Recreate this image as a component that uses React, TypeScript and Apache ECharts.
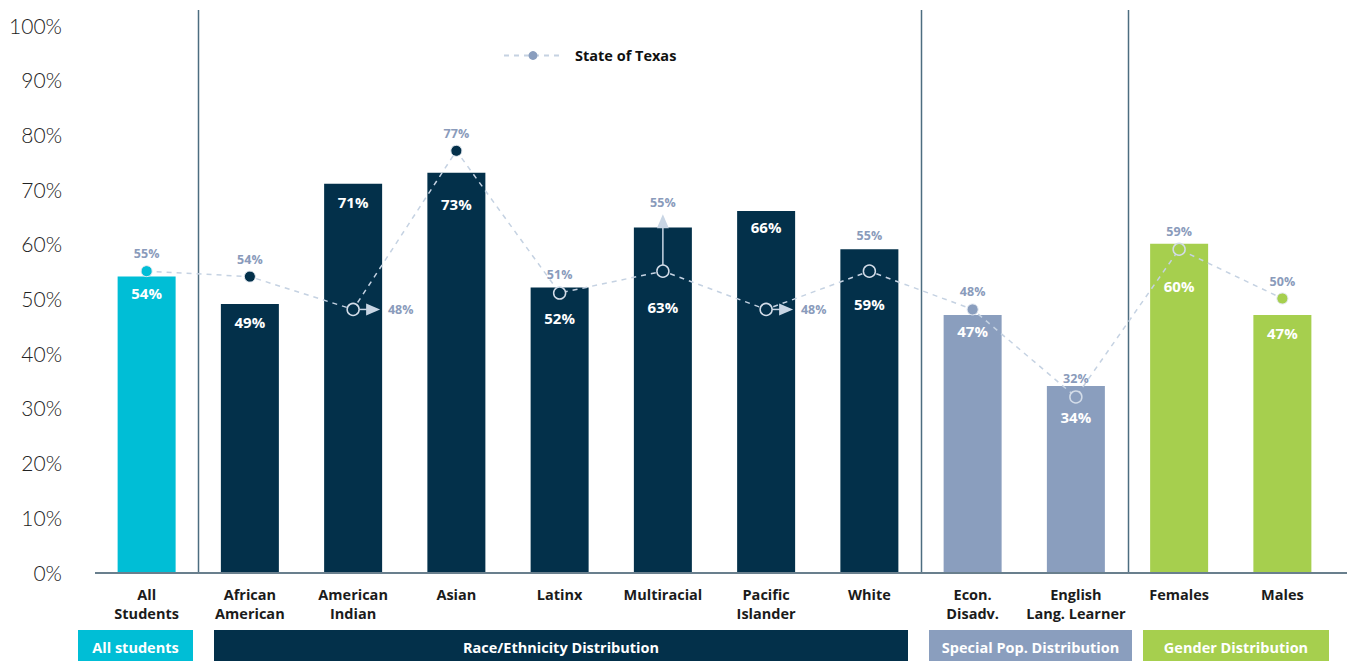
import React, { useEffect, useRef } from "react";
import * as echarts from "echarts";

// ---------- data ----------
const categories = [
  "All\nStudents",
  "African\nAmerican",
  "American\nIndian",
  "Asian",
  "Latinx",
  "Multiracial",
  "Pacific\nIslander",
  "White",
  "Econ.\nDisadv.",
  "English\nLang. Learner",
  "Females",
  "Males",
];
const categoryGroup = ["all", "race", "race", "race", "race", "race", "race", "race", "special", "special", "gender", "gender"];
const districtValues = [54, 49, 71, 73, 52, 63, 66, 59, 47, 34, 60, 47];
const stateValues = [55, 54, 48, 77, 51, 55, 48, 55, 48, 32, 59, 50];
const stateArrows = ["", "", "right", "", "", "up", "right", "", "", "", "", ""];
const stateSeriesName = "State of Texas";
const groupNames = ["All students", "Race/Ethnicity Distribution", "Special Pop. Distribution", "Gender Distribution"];
const groupKeys = ["all", "race", "special", "gender"];

// ---------- styles / layout ----------
const groupColors: Record<string, string> = {
  all: "#00bed6",
  race: "#03304a",
  special: "#8a9ebe",
  gender: "#a6cf4e",
};
const bandRanges = [
  [78, 193],
  [214, 908],
  [929, 1132],
  [1143, 1329],
];
const barLabelDistance = [9, 11, 11, 24, 23, 72, 9, 47, 9, 23, 35, 11];
const stateLabelDistance = [5, 5, 28, 5, 5, 55, 28, 22, 5, 5, 5, 5];
const dividerAfter = [0, 7, 9];

const W = 1347;
const H = 661;
const FONT = "'Open Sans', 'Noto Sans', sans-serif";
const AXFONT = "Lato, 'Noto Sans', sans-serif";
const stateLabelColor = "#8a9bbb";
const stateLineColor = "#c5d2e2";
const arrowColor = "#c8d5e4";

export default function App() {
  const ref = useRef<HTMLDivElement>(null);

  useEffect(() => {
    if (!ref.current) return;
    const chart = echarts.init(ref.current, undefined, { renderer: "svg" });

    const barData = districtValues.map((v, i) => ({
      value: v,
      itemStyle: { color: groupColors[categoryGroup[i]] },
      label: { distance: barLabelDistance[i] },
    }));

    const stateData = stateValues.map((v, i) => {
      const below = v < districtValues[i];
      const col = groupColors[categoryGroup[i]];
      const pos = stateArrows[i] === "right" ? "right" : "top";
      return {
        value: v,
        symbolSize: below ? 12 : 11,
        itemStyle: below
          ? { color: col, borderColor: "#d3dce8", borderWidth: 1.5 }
          : { color: col, borderColor: "#e2e8f0", borderWidth: 1 },
        label: { position: pos, distance: stateLabelDistance[i] },
      };
    });

    const arrowData = stateValues
      .map((v, i) => [i, v, stateArrows[i] === "up" ? 1 : stateArrows[i] === "right" ? 0 : -1])
      .filter((d) => d[2] >= 0);

    const option: any = {
      animation: false,
      textStyle: { fontFamily: FONT },
      grid: { left: 95, right: 13, top: 25, bottom: 89 },
      legend: {
        data: [stateSeriesName],
        left: 498,
        top: 43,
        itemWidth: 58,
        itemHeight: 11,
        itemGap: 10,
        textStyle: { fontFamily: FONT, fontWeight: "bold", fontSize: 14.5, color: "#111", padding: [0, 0, 0, 8] },
      },
      xAxis: {
        type: "category",
        data: categories,
        axisLine: { show: false },
        axisTick: { show: false },
        axisLabel: {
          interval: 0,
          margin: 13,
          fontFamily: FONT,
          fontSize: 14.5,
          fontWeight: "bold",
          color: "#1b1b1b",
          lineHeight: 19,
          verticalAlign: "top",
        },
      },
      yAxis: {
        type: "value",
        min: 0,
        max: 100,
        interval: 10,
        splitLine: { show: false },
        axisLine: { show: false },
        axisTick: { show: false },
        axisLabel: {
          formatter: "{value}%",
          fontFamily: AXFONT,
          fontSize: 21,
          fontWeight: 300,
          color: "#222",
          margin: 33,
          padding: [0, 0, 6, 0],
        },
      },
      series: [
        {
          type: "bar",
          name: "District",
          data: barData,
          barWidth: 58,
          z: 2,
          label: {
            show: true,
            position: "insideTop",
            formatter: "{c}%",
            color: "#fff",
            fontFamily: FONT,
            fontWeight: "bold",
            fontSize: 15,
          },
        },
        {
          type: "line",
          name: stateSeriesName,
          data: stateData,
          z: 5,
          symbol: "circle",
          symbolSize: 11,
          itemStyle: { color: "#8a9ebe" },
          lineStyle: { color: stateLineColor, width: 1.5, type: [5, 5] },
          label: {
            show: true,
            formatter: "{c}%",
            color: stateLabelColor,
            fontFamily: FONT,
            fontWeight: "bold",
            fontSize: 12.5,
          },
        },
        {
          type: "custom",
          name: "arrows",
          data: arrowData,
          z: 4,
          silent: true,
          renderItem: (params: any, api: any) => {
            const p = api.coord([api.value(0), api.value(1)]);
            const dir = api.value(2);
            const st = { stroke: arrowColor, lineWidth: 1.5 };
            if (dir === 1) {
              return {
                type: "group",
                children: [
                  { type: "line", shape: { x1: p[0], y1: p[1] - 6, x2: p[0], y2: p[1] - 44 }, style: st },
                  {
                    type: "polygon",
                    shape: { points: [[p[0] - 6, p[1] - 43], [p[0] + 6, p[1] - 43], [p[0], p[1] - 57]] },
                    style: { fill: arrowColor },
                  },
                ],
              };
            }
            return {
              type: "group",
              children: [
                { type: "line", shape: { x1: p[0] + 6, y1: p[1], x2: p[0] + 14, y2: p[1] }, style: st },
                {
                  type: "polygon",
                  shape: { points: [[p[0] + 13, p[1] - 6], [p[0] + 13, p[1] + 6], [p[0] + 27, p[1]]] },
                  style: { fill: arrowColor },
                },
              ],
            };
          },
        },
      ],
    };

    chart.setOption(option);

    // layout graphics (dividers, axis line, group bands)
    const axisY = chart.convertToPixel({ yAxisIndex: 0 }, 0) as number;
    const graphics: any[] = [];
    dividerAfter.forEach((i) => {
      const a = chart.convertToPixel({ xAxisIndex: 0 }, i) as number;
      const b = chart.convertToPixel({ xAxisIndex: 0 }, i + 1) as number;
      const x = Math.round((a + b) / 2) + 0.5;
      graphics.push({
        type: "line",
        z: 1,
        shape: { x1: x, y1: 10, x2: x, y2: axisY },
        style: { stroke: "#4d6d80", lineWidth: 1.5 },
      });
    });
    graphics.push({
      type: "line",
      z: 10,
      shape: { x1: 95, y1: axisY + 1, x2: W, y2: axisY + 1 },
      style: { stroke: "#4f6879", lineWidth: 2, opacity: 0.85 },
    });
    groupKeys.forEach((k, gi) => {
      const [x0, x1] = bandRanges[gi];
      graphics.push({
        type: "group",
        children: [
          {
            type: "rect",
            shape: { x: x0, y: 630, width: x1 - x0, height: 31 },
            style: { fill: groupColors[k] },
          },
          {
            type: "text",
            x: (x0 + x1) / 2,
            y: 647,
            style: {
              text: groupNames[gi],
              fill: "#fff",
              font: `bold 14.5px ${FONT}`,
              align: "center",
              verticalAlign: "middle",
            },
          },
        ],
      });
    });
    chart.setOption({ graphic: graphics });

    return () => chart.dispose();
  }, []);

  return (
    <div
      ref={ref}
      style={{ position: "fixed", left: 0, top: 0, width: W, height: H, background: "#fff" }}
    />
  );
}
